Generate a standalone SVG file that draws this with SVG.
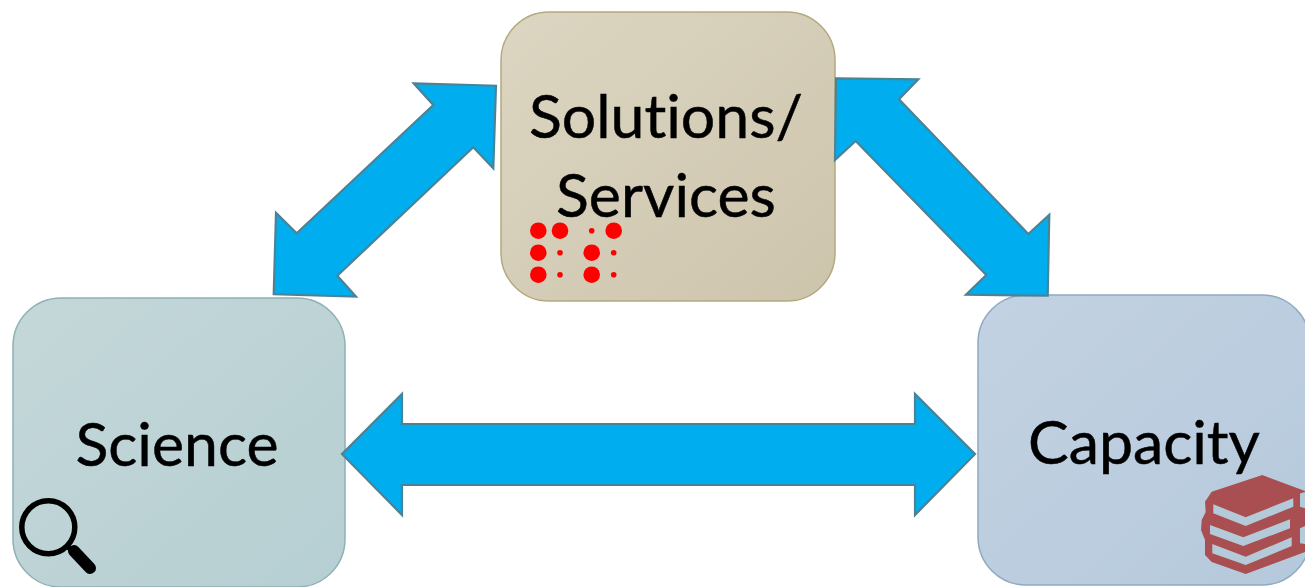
<svg xmlns="http://www.w3.org/2000/svg" width="1305" height="587" viewBox="0 0 1305 587">
<style>
.arrow{fill:#00aeef;stroke:#4a8296;stroke-width:2.2;stroke-linejoin:miter}
.box{stroke-width:1.5}
.label{font-family:"Lato","Carlito","Open Sans",sans-serif;font-size:60.8px;fill:#000;stroke:#000;stroke-width:.5;text-anchor:middle;font-variant-ligatures:none}
.big{fill:#fe0000}
.page{fill:#b4cad9}
</style>
<defs>
<linearGradient id="gs" x1="0" y1="0" x2="1" y2="1"><stop offset="0" stop-color="#c4d7d9"/><stop offset="1" stop-color="#b6cfd2"/></linearGradient>
<linearGradient id="gt" x1="0" y1="0" x2="1" y2="1"><stop offset="0" stop-color="#dcd6c2"/><stop offset="1" stop-color="#cdc4ac"/></linearGradient>
<linearGradient id="gc" x1="0" y1="0" x2="1" y2="1"><stop offset="0" stop-color="#c3d2e2"/><stop offset="1" stop-color="#b5c9dc"/></linearGradient>
</defs>
<g id="node-science">
<rect class="box" x="13" y="298" width="332" height="289" rx="48" fill="url(#gs)" stroke="#8fb0b5"/>
<text class="label" x="177" y="466">Science</text>
<circle cx="48.3" cy="527.3" r="26.5" fill="none" stroke="#000" stroke-width="5.5"/>
<line x1="67" y1="546" x2="75" y2="554" stroke="#000" stroke-width="5"/>
<line x1="74" y1="551" x2="90" y2="568" stroke="#000" stroke-width="12" stroke-linecap="round"/>
</g>
<g id="node-solutions">
<rect class="box" x="501" y="12" width="334" height="289" rx="48" fill="url(#gt)" stroke="#b3a97f"/>
<text class="label" x="666" y="138">Solutions/</text>
<text class="label" x="666" y="217">Services</text>
<g class="big">
<circle cx="538.3" cy="230.7" r="8.3"/><circle cx="560" cy="230.7" r="8.3"/><circle cx="591.7" cy="230.7" r="2.8"/><circle cx="613.7" cy="230.7" r="8.3"/>
<circle cx="538.3" cy="252.7" r="8.3"/><circle cx="560" cy="252.7" r="2.8"/><circle cx="591.7" cy="252.7" r="8.3"/><circle cx="613.7" cy="252.7" r="2.8"/>
<circle cx="538.3" cy="274.7" r="8.3"/><circle cx="560" cy="274.7" r="2.8"/><circle cx="591.7" cy="274.7" r="8.3"/><circle cx="613.7" cy="274.7" r="2.8"/>
</g>
</g>
<g id="node-capacity">
<rect class="box" x="978" y="295" width="332" height="290" rx="48" fill="url(#gc)" stroke="#8ea9c2"/>
<text class="label" x="1144" y="464">Capacity</text>
<polygon fill="#a94f51" points="1262.3,475 1305,491 1305,552 1245.7,574 1211.7,562 1205,555 1205,540 1201,530 1201.7,520 1205.7,512 1205,501.7 1211.7,491.7"/>
<polygon class="page" points="1213.3,504.3 1245.7,517.3 1293.3,498.3 1293.3,506.7 1245.7,526 1213.3,513.3"/>
<polygon class="page" points="1210,525 1243.3,537.3 1290,519.3 1290,528.3 1243.3,546 1210,534"/>
<polygon class="page" points="1212.3,544 1245.7,556.7 1291.7,537.3 1291.7,546 1245.7,565 1212.3,553.3"/>
<polygon class="page" points="1300,493.5 1305,492 1305,508.3 1300,506.7"/>
<polygon class="page" points="1300,528.3 1305,526 1305,544 1300,543.3"/>
</g>
<g id="connectors">
<polygon class="arrow" points="413.7,83.3 496,85.7 493.3,168.3 473.3,147.3 337.3,275.7 356,296.7 273.7,294.3 276,212.7 296.7,233.3 433.3,105"/>
<polygon class="arrow" points="836,78.3 918.3,79.3 899,99.3 1028.3,234 1049.3,214.7 1047.7,295.7 966,294.7 986.3,275 855.7,141 835,160"/>
<polygon class="arrow" points="342,454 402,394 402,424 915,424 915,394 975,454 915,515 915,485 402,485 402,515"/>
</g>
</svg>
